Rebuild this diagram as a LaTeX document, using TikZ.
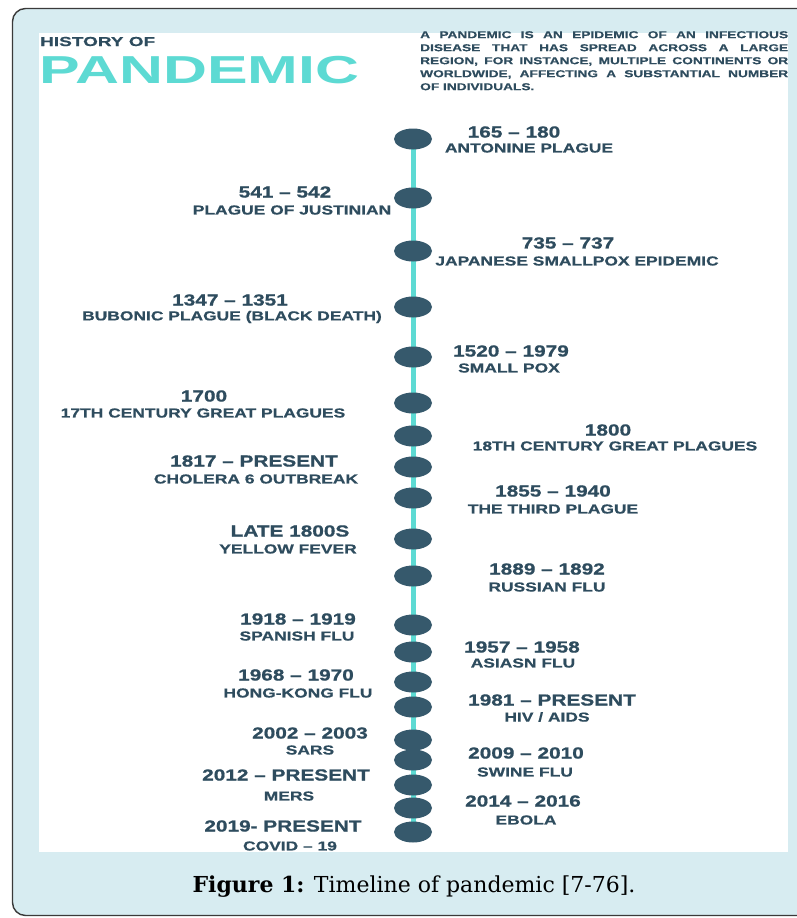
\documentclass[tikz,border=0pt]{standalone}
\usepackage{fontspec}
\setmainfont{DejaVu Serif}
\newfontfamily\yearfont[FakeStretch=1.3,FakeBold=0.9]{Liberation Sans}
\newfontfamily\labfont[FakeStretch=1.34,FakeBold=0.7]{Liberation Sans}
\newfontfamily\headfont[FakeStretch=1.46,FakeBold=0.6]{Liberation Sans}
\newfontfamily\bigfont[FakeStretch=1.56]{Liberation Sans}
\newfontfamily\parfont[FakeStretch=1.37,FakeBold=0.5]{Liberation Sans}
\newfontfamily\capfont{DejaVu Serif}
\definecolor{bgblue}{HTML}{D7ECF1}
\definecolor{inkdark}{HTML}{2E4C5E}
\definecolor{dotcol}{HTML}{36596C}
\definecolor{tealc}{HTML}{5DDAD3}
\definecolor{framec}{HTML}{3A3A3A}
\pgfdeclarelayer{back}
\pgfdeclarelayer{mid}
\pgfsetlayers{back,mid,main}
\tikzset{
  yr/.style={inner sep=0pt, text=inkdark, font=\yearfont\bfseries\fontsize{16}{16}\selectfont},
  lab/.style={inner sep=0pt, text=inkdark, font=\labfont\bfseries\fontsize{13}{13}\selectfont},
  dotnode/.style={ellipse, fill=dotcol, minimum width=38pt, minimum height=21pt, inner sep=0pt},
}
\usetikzlibrary{shapes.geometric}
\begin{document}
\begin{tikzpicture}[x=1pt,y=-1pt]
\useasboundingbox (0,0) rectangle (797,918);
\begin{pgfonlayer}{back}
\begin{scope}
\clip (0,0) rectangle (797,918);
\draw[fill=bgblue, draw=framec, line width=1.4pt, rounded corners=13pt] (12.5,8.5) rectangle (830,915.5);
\end{scope}
\fill[white] (39,33) rectangle (788,852);
\end{pgfonlayer}
% header
\node[anchor=base west, inner sep=0pt, text=inkdark, font=\headfont\bfseries\fontsize{13}{13}\selectfont] (hist) at (40,46) {HISTORY OF};
\node[anchor=base west, inner sep=0pt, text=tealc, font=\bigfont\bfseries\fontsize{39}{39}\selectfont] (pand) at (39,83.5) {PANDEMIC};
\node[anchor=north west, inner sep=0pt, text=inkdark, font=\parfont\bfseries\fontsize{10}{13}\selectfont, text width=368pt, align=justify] (intro) at (420,31)
{A PANDEMIC IS AN EPIDEMIC OF AN INFECTIOUS\linebreak DISEASE THAT HAS SPREAD ACROSS A LARGE\linebreak REGION, FOR INSTANCE, MULTIPLE CONTINENTS OR\linebreak WORLDWIDE, AFFECTING A SUBSTANTIAL NUMBER\linebreak OF INDIVIDUALS.};
% dots
\foreach \n/\yy in {1/139,2/198,3/251,4/307,5/357,6/403,7/436,8/467,9/498,10/539,11/576,12/625,13/652,14/682,15/707,16/740,17/760,18/785,19/808,20/832}{
  \node[dotnode] (d\n) at (413,\yy) {};
}
\begin{pgfonlayer}{mid}
\draw[tealc, line width=5pt] (d1.center) -- (d20.center);
\end{pgfonlayer}
% right side
\node[yr] (y1) at (514,132) {165 – 180};
\node[lab] (l1) at (529,148) {ANTONINE PLAGUE};
\node[yr] (y3) at (568,243) {735 – 737};
\node[lab] (l3) at (577,261) {JAPANESE SMALLPOX EPIDEMIC};
\node[yr] (y5) at (511,351) {1520 – 1979};
\node[lab] (l5) at (509,368) {SMALL POX};
\node[yr] (y7) at (608,430) {1800};
\node[lab] (l7) at (615,446) {18TH CENTURY GREAT PLAGUES};
\node[yr] (y9) at (553,491) {1855 – 1940};
\node[lab] (l9) at (553,509) {THE THIRD PLAGUE};
\node[yr] (y11) at (547,569) {1889 – 1892};
\node[lab] (l11) at (547,587) {RUSSIAN FLU};
\node[yr] (y13) at (522,647) {1957 – 1958};
\node[lab] (l13) at (523,663) {ASIASN FLU};
\node[yr] (y15) at (552,700) {1981 – PRESENT};
\node[lab] (l15) at (547,717) {HIV / AIDS};
\node[yr] (y17) at (526,753) {2009 – 2010};
\node[lab] (l17) at (525,772) {SWINE FLU};
\node[yr] (y19) at (523,801) {2014 – 2016};
\node[lab] (l19) at (526,820) {EBOLA};
% left side
\node[yr] (y2) at (285,192) {541 – 542};
\node[lab] (l2) at (292,210) {PLAGUE OF JUSTINIAN};
\node[yr] (y4) at (230,300) {1347 – 1351};
\node[lab] (l4) at (232,317) {BUBONIC PLAGUE (BLACK DEATH)};
\node[yr] (y6) at (204,396) {1700};
\node[lab] (l6) at (203,413) {17TH CENTURY GREAT PLAGUES};
\node[yr] (y8) at (254,461) {1817 – PRESENT};
\node[lab] (l8) at (256,479) {CHOLERA 6 OUTBREAK};
\node[yr] (y10) at (290,531) {LATE 1800S};
\node[lab] (l10) at (288,549) {YELLOW FEVER};
\node[yr] (y12) at (298,619) {1918 – 1919};
\node[lab] (l12) at (297,636) {SPANISH FLU};
\node[yr] (y14) at (296,675) {1968 – 1970};
\node[lab] (l14) at (298,693) {HONG-KONG FLU};
\node[yr] (y16) at (310,733) {2002 – 2003};
\node[lab] (l16) at (310,750) {SARS};
\node[yr] (y18) at (286,775) {2012 – PRESENT};
\node[lab] (l18) at (289,796) {MERS};
\node[yr] (y20) at (283,826) {2019- PRESENT};
\node[lab] (l20) at (290,846) {COVID – 19};
% caption
\node[inner sep=0pt, font=\capfont\fontsize{22}{22}\selectfont] (cap) at (414,887) {\textbf{Figure 1:} Timeline of pandemic [7-76].};
\end{tikzpicture}
\end{document}
